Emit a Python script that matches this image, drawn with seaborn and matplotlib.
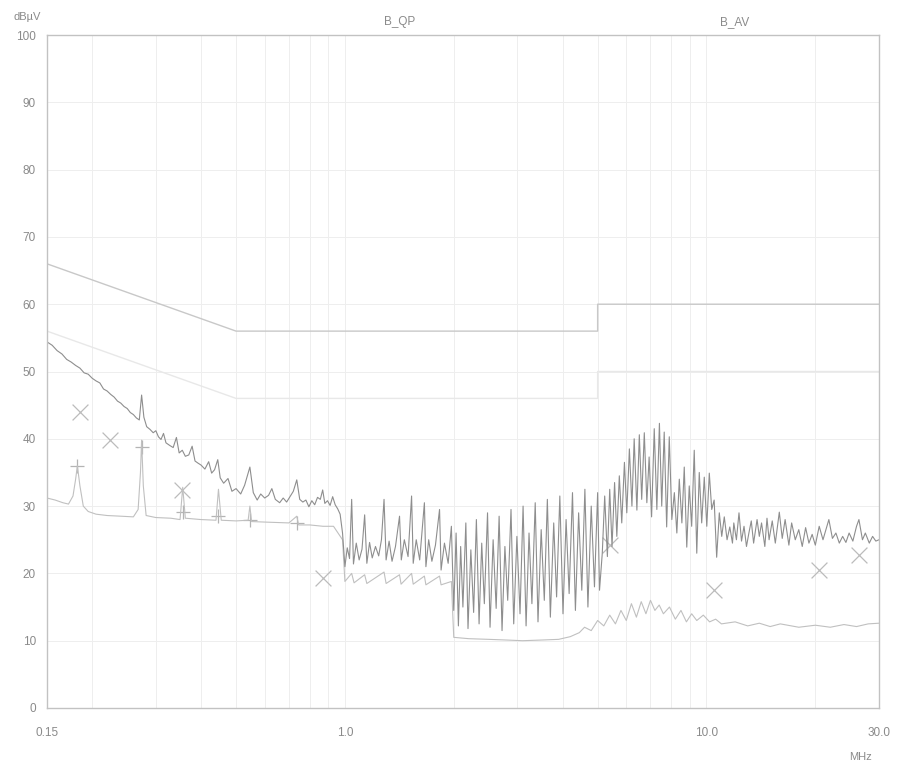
import numpy as np
import pandas as pd
import matplotlib
matplotlib.use("Agg")
import matplotlib.pyplot as plt
import seaborn as sns
from matplotlib.ticker import FixedLocator, NullFormatter

# ---------------- data ----------------
# Peak (QP-detector scan) trace: frequency [MHz], level [dBµV]
pk_f = [0.150, 0.155, 0.160, 0.165, 0.170, 0.175, 0.180, 0.185, 0.190, 0.195, 0.200, 0.205, 0.210, 0.215,
        0.220, 0.225, 0.230, 0.235, 0.240, 0.245, 0.250, 0.255, 0.260, 0.265, 0.270, 0.274, 0.278, 0.283,
        0.289, 0.295, 0.300, 0.305, 0.310, 0.315, 0.320, 0.328, 0.335, 0.342, 0.348, 0.355, 0.362, 0.370,
        0.378, 0.385, 0.392, 0.400, 0.410, 0.420, 0.428, 0.436, 0.445, 0.452, 0.462, 0.475, 0.487, 0.500,
        0.515, 0.528, 0.546, 0.558, 0.572, 0.585, 0.600, 0.615, 0.628, 0.642, 0.660, 0.675, 0.690, 0.705,
        0.720, 0.736, 0.750, 0.765, 0.780, 0.795, 0.810, 0.825, 0.840, 0.855, 0.868, 0.880, 0.895, 0.910,
        0.925, 0.940, 0.955, 0.970, 0.985,
        1.000, 1.015, 1.030, 1.044, 1.056, 1.075, 1.095, 1.115, 1.134, 1.150, 1.170, 1.190, 1.215, 1.240,
        1.262, 1.283, 1.300, 1.325, 1.350, 1.380, 1.416, 1.432, 1.460, 1.495, 1.529, 1.545, 1.575, 1.610,
        1.659, 1.675, 1.705, 1.740, 1.780, 1.827, 1.845, 1.885, 1.930, 1.970,
        2.00, 2.03, 2.06, 2.09, 2.12, 2.16, 2.19, 2.23, 2.27, 2.31, 2.35, 2.39, 2.43, 2.48, 2.52, 2.57,
        2.62, 2.67, 2.72, 2.77, 2.82, 2.88, 2.93, 2.99, 3.05, 3.11, 3.17, 3.23, 3.29, 3.36, 3.42, 3.49,
        3.56, 3.63, 3.70, 3.78, 3.85, 3.93, 4.01, 4.09, 4.17, 4.26, 4.34, 4.43, 4.52, 4.61, 4.70, 4.80,
        4.90, 5.00, 5.06,
        5.15, 5.23, 5.32, 5.40, 5.48, 5.57, 5.65, 5.74, 5.83, 5.93, 6.02, 6.12, 6.22, 6.31, 6.42, 6.52,
        6.62, 6.73, 6.84, 6.94, 7.05, 7.17, 7.29, 7.41, 7.52, 7.64, 7.76, 7.89, 8.02, 8.15, 8.28, 8.41,
        8.55, 8.68, 8.82, 8.96, 9.10, 9.25, 9.40, 9.55, 9.70, 9.86, 10.02, 10.18, 10.34, 10.50, 10.67,
        10.85, 11.02, 11.2, 11.4, 11.6,
        11.8, 11.9, 12.1, 12.3, 12.5, 12.7, 12.9, 13.1, 13.3, 13.5, 13.8, 14.0, 14.2, 14.5, 14.7, 14.9,
        15.2, 15.5, 15.9, 16.2, 16.5, 16.9, 17.2, 17.6, 18.0, 18.4, 18.8, 19.2, 19.6, 20.0, 20.5, 21.0,
        21.4, 21.8, 22.3, 22.8, 23.3, 23.8, 24.3, 24.8, 25.4, 26.0, 26.4, 27.0, 27.5, 28.2, 28.8, 29.4,
        30.0]
pk_db = [54.4, 53.9, 53.1, 52.6, 51.8, 51.4, 50.9, 50.5, 49.8, 49.6, 49.0, 48.6, 48.3, 47.4,
         47.1, 46.6, 46.2, 45.6, 45.3, 44.8, 44.5, 43.9, 43.6, 43.1, 42.8, 46.5, 43.2, 41.8,
         41.4, 40.9, 41.2, 40.3, 39.9, 40.8, 39.4, 39.0, 38.7, 40.2, 37.9, 38.3, 37.4, 37.6,
         38.9, 36.7, 36.4, 36.1, 35.5, 36.6, 34.9, 35.4, 36.9, 34.2, 33.4, 34.1, 32.2, 32.6,
         31.8, 33.1, 35.8, 32.0, 30.9, 31.8, 31.2, 31.6, 32.6, 31.0, 30.5, 31.2, 30.6, 31.4,
         32.2, 33.9, 31.0, 30.6, 30.9, 29.9, 30.8, 30.2, 31.3, 31.0, 32.4, 30.4, 30.8, 30.1,
         31.4, 30.2, 29.6, 28.8, 26.0,
         21.0, 23.8, 22.2, 31.0, 21.4, 24.5, 22.0, 23.6, 28.7, 21.5, 24.6, 22.3, 24.0, 22.6,
         25.0, 31.0, 22.0, 24.8, 21.8, 24.0, 28.5, 22.0, 25.0, 22.5, 31.5, 21.5, 25.0, 22.0,
         30.5, 21.0, 25.0, 21.8, 24.2, 29.5, 20.5, 24.5, 21.5, 27.0,
         14.5, 26.0, 12.2, 24.0, 15.0, 27.5, 11.8, 23.5, 14.2, 28.0, 12.5, 24.5, 15.5, 29.0, 12.0, 25.0,
         14.8, 28.5, 11.5, 24.0, 16.0, 29.5, 12.5, 25.5, 14.0, 30.0, 12.2, 26.0, 15.5, 30.5, 12.8, 26.5,
         16.0, 31.0, 13.5, 27.5, 16.5, 31.5, 14.0, 28.0, 17.0, 32.0, 14.5, 29.0, 17.5, 32.5, 15.0, 30.0,
         18.0, 32.0, 17.5,
         23.0, 31.5, 22.5, 32.5, 24.0, 33.5, 25.5, 34.5, 27.5, 36.5, 29.0, 38.5, 30.0, 40.0, 29.4, 40.6,
         31.0, 40.9, 30.5, 37.3, 28.4, 41.5, 29.5, 42.3, 30.0, 41.0, 26.9, 40.3, 28.0, 32.0, 26.0, 34.0,
         27.5, 35.8, 23.9, 33.0, 27.0, 38.3, 23.0, 35.0, 27.5, 34.3, 27.0, 34.9, 29.5, 30.9, 22.4,
         29.0, 25.5, 28.4, 25.0, 26.9,
         24.5, 27.5, 25.0, 29.0, 24.8, 27.0, 24.0, 26.0, 27.8, 24.5, 28.0, 25.5, 27.5, 24.0, 28.2, 25.0,
         27.8, 24.5, 29.1, 25.2, 28.0, 24.2, 27.5, 25.0, 26.5, 24.0, 26.8, 24.5, 25.8, 24.2, 27.0, 25.0,
         26.5, 28.0, 25.2, 26.0, 24.5, 25.5, 24.6, 26.0, 24.8, 27.0, 28.0, 25.0, 26.0, 24.5, 25.5, 24.8,
         25.0]

# Average trace
av_f = [0.150, 0.158, 0.166, 0.172, 0.177, 0.180, 0.182, 0.185, 0.189, 0.195, 0.205, 0.220, 0.240, 0.260,
        0.268, 0.272, 0.274, 0.277, 0.282, 0.300, 0.330, 0.350, 0.356, 0.362, 0.400, 0.440, 0.447, 0.455,
        0.500, 0.540, 0.546, 0.552, 0.620, 0.700, 0.736, 0.745, 0.800, 0.870, 0.930, 0.985,
        1.000, 1.044, 1.060, 1.134, 1.150, 1.283, 1.300, 1.416, 1.430, 1.529, 1.545, 1.659, 1.675, 1.827,
        1.845, 1.970,
        2.00, 2.20, 2.50, 2.80, 3.10, 3.50, 3.90, 4.20, 4.45, 4.60, 4.80, 5.00, 5.20, 5.40, 5.60, 5.80,
        6.00, 6.20, 6.40, 6.60, 6.80, 7.00, 7.20, 7.40, 7.60, 7.90, 8.20, 8.50, 8.80, 9.10, 9.40, 9.80,
        10.2, 10.6, 11.0, 12.0, 13.0, 14.0, 15.0, 16.0, 18.0, 20.0, 22.0, 24.0, 26.0, 28.0, 30.0]
av_db = [31.2, 30.9, 30.5, 30.3, 31.5, 34.0, 36.0, 33.0, 30.0, 29.2, 28.8, 28.6, 28.5, 28.4,
         29.5, 35.0, 39.8, 33.0, 28.6, 28.3, 28.2, 28.0, 32.8, 28.2, 28.0, 27.9, 32.5, 27.9,
         27.8, 27.9, 30.0, 27.7, 27.6, 27.5, 28.5, 27.2, 27.2, 27.0, 27.0, 25.0,
         18.8, 20.0, 18.6, 19.8, 18.5, 20.2, 18.5, 19.8, 18.4, 20.0, 18.4, 19.6, 18.3, 19.6,
         18.3, 18.8,
         10.5, 10.3, 10.2, 10.1, 10.0, 10.1, 10.2, 10.6, 11.2, 12.0, 11.5, 13.0, 12.2, 13.8, 12.5, 14.5,
         13.0, 15.5, 13.5, 15.8, 14.0, 16.0, 14.5, 15.3, 14.0, 15.0, 13.2, 14.5, 12.8, 14.0, 13.0, 13.8,
         12.8, 13.2, 12.5, 12.8, 12.2, 12.6, 12.1, 12.5, 12.0, 12.3, 12.0, 12.4, 12.1, 12.5, 12.6]

# Limit lines (class B)
qp_lim_f = [0.15, 0.5, 5.0, 5.0, 30.0]
qp_lim_db = [66, 56, 56, 60, 60]
av_lim_f = [0.15, 0.5, 5.0, 5.0, 30.0]
av_lim_db = [56, 46, 46, 50, 50]

# Final measurement markers
qp_mk_f = [0.185, 0.224, 0.355, 0.870, 5.40, 10.5, 20.5, 26.4]
qp_mk_db = [44.0, 39.8, 32.4, 19.3, 24.2, 17.5, 20.5, 22.7]
av_mk_f = [0.182, 0.274, 0.356, 0.447, 0.546, 0.736]
av_mk_db = [36.0, 38.8, 29.1, 28.5, 28.0, 27.5]

x_ticks = [0.15, 1.0, 10.0, 30.0]
x_tick_labels = ["0.15", "1.0", "10.0", "30.0"]
y_ticks = list(range(0, 101, 10))

# ---------------- plotting ----------------
sns.set_theme(style="white")
plt.rcParams['font.family'] = ['Liberation Sans', 'DejaVu Sans']

fig = plt.figure(figsize=(9.02, 7.65), dpi=100)
ax = fig.add_axes([47 / 902, 1 - 708 / 765, (879 - 47) / 902, (708 - 35) / 765])

pk = pd.DataFrame({"f": pk_f, "db": pk_db})
av = pd.DataFrame({"f": av_f, "db": av_db})
ql = pd.DataFrame({"f": qp_lim_f, "db": qp_lim_db})
al = pd.DataFrame({"f": av_lim_f, "db": av_lim_db})

sns.lineplot(data=al, x="f", y="db", sort=False, estimator=None, color="#e8e8e8", lw=1.0, ax=ax)
sns.lineplot(data=ql, x="f", y="db", sort=False, estimator=None, color="#c8c8c8", lw=1.0, ax=ax)
sns.lineplot(data=av, x="f", y="db", sort=False, estimator=None, color="#c0c0c0", lw=0.8, ax=ax)
sns.lineplot(data=pk, x="f", y="db", sort=False, estimator=None, color="#8e8e8e", lw=0.8, ax=ax)
sns.scatterplot(x=qp_mk_f, y=qp_mk_db, marker="x", s=130, color="#bcbcbc", linewidth=0.9, ax=ax)
sns.scatterplot(x=av_mk_f, y=av_mk_db, marker="+", s=110, color="#b4b4b4", linewidth=0.9, ax=ax)

ax.set_xscale("log")
ax.set_xlim(0.15, 30)
ax.set_ylim(0, 100)
ax.set_xlabel("")
ax.set_ylabel("")

ax.xaxis.set_major_locator(FixedLocator(x_ticks))
ax.set_xticklabels(x_tick_labels)
minor = [0.2, 0.3, 0.4, 0.5, 0.6, 0.7, 0.8, 0.9, 2, 3, 4, 5, 6, 7, 8, 9, 20]
ax.xaxis.set_minor_locator(FixedLocator(minor))
ax.xaxis.set_minor_formatter(NullFormatter())
ax.set_yticks(y_ticks)

ax.grid(True, which="both", color="#eeeeee", lw=0.7)
ax.set_axisbelow(True)
for s in ax.spines.values():
    s.set_visible(True)
    s.set_color("#c2c2c2")
    s.set_linewidth(1.0)
ax.tick_params(axis="both", which="both", length=0, labelsize=8.5, labelcolor="#8a8a8a")
ax.tick_params(axis="x", pad=14)
ax.tick_params(axis="y", pad=8)

fig.text(27 / 902, 1 - 17 / 765, "dBµV", ha="center", va="center", fontsize=8, color="#8a8a8a")
fig.text(400 / 902, 1 - 22 / 765, "B_QP", ha="center", va="center", fontsize=8.5, color="#8a8a8a")
fig.text(735 / 902, 1 - 22 / 765, "B_AV", ha="center", va="center", fontsize=8.5, color="#8a8a8a")
fig.text(860 / 902, 1 - 757 / 765, "MHz", ha="center", va="center", fontsize=8, color="#8a8a8a")

fig.savefig("out.png", dpi=100, facecolor="white")
